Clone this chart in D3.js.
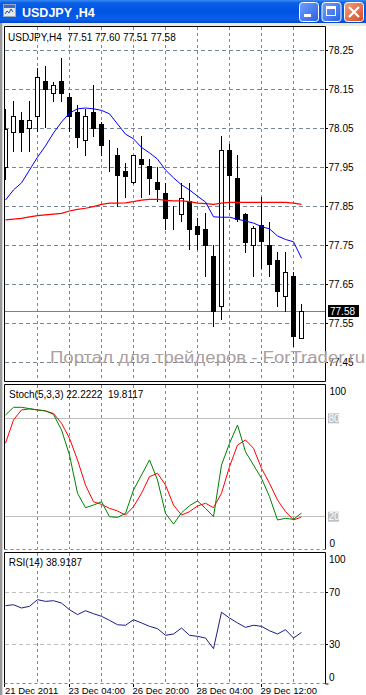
<!DOCTYPE html>
<html><head><meta charset="utf-8">
<script src="https://cdn.jsdelivr.net/npm/d3@7"></script>
<style>
html,body{margin:0;padding:0;background:#fff;overflow:hidden}
svg{display:block}
text{font-family:"Liberation Sans",Arial,sans-serif}
</style>
</head><body>
<svg id="c" width="366" height="695"></svg>
<script>
// ---------------- data ----------------
const windowTitle = "USDJPY ,H4";
const chartLabel = "USDJPY,H4  77.51 77.60 77.51 77.58";
const stochLabel = "Stoch(5,3,3) 22.2222  19.8117";
const rsiLabel = "RSI(14) 38.9187";
const watermark = "Портал для трейдеров - ForTrader.ru";

const open  = [77.950,78.040,78.070,78.050,78.081,78.170,78.140,78.170,78.130,78.091,78.019,78.091,78.060,77.971,77.980,77.940,77.910,77.971,77.951,77.910,77.882,77.830,77.830,77.862,77.799,77.790,77.721,77.591,77.992,77.921,77.830,77.749,77.800,77.750,77.710,77.620,77.671,77.510];
const high  = [78.099,78.120,78.092,78.120,78.205,78.210,78.168,78.230,78.141,78.110,78.100,78.161,78.066,78.020,78.000,77.960,77.980,78.030,77.971,77.950,77.910,77.850,77.910,77.910,77.820,77.833,77.750,78.030,78.010,77.982,77.833,77.800,77.875,77.810,77.733,77.733,77.681,77.600];
const low   = [77.917,77.990,77.990,77.990,78.040,78.050,78.118,78.118,78.040,78.000,77.980,78.028,77.979,77.939,77.849,77.870,77.908,77.870,77.879,77.860,77.790,77.790,77.810,77.738,77.738,77.670,77.540,77.558,77.840,77.810,77.730,77.670,77.690,77.670,77.591,77.580,77.490,77.510];
const close = [78.048,78.081,78.040,78.070,78.181,78.150,78.160,78.139,78.080,78.028,78.081,78.050,78.007,77.970,77.928,77.928,77.980,77.959,77.919,77.891,77.818,77.829,77.870,77.789,77.779,77.748,77.580,77.992,77.928,77.817,77.759,77.792,77.759,77.700,77.630,77.681,77.518,77.580];

const maFast = [77.866,77.892,77.910,77.943,77.976,78.005,78.038,78.066,78.089,78.100,78.102,78.100,78.096,78.087,78.061,78.035,78.023,78.001,77.987,77.971,77.943,77.923,77.905,77.892,77.876,77.861,77.823,77.822,77.822,77.817,77.812,77.807,77.798,77.792,77.774,77.765,77.759,77.717];
const maSlow = [77.815,77.817,77.819,77.823,77.826,77.828,77.830,77.832,77.838,77.842,77.845,77.849,77.855,77.858,77.858,77.859,77.862,77.866,77.868,77.868,77.865,77.864,77.864,77.862,77.858,77.857,77.855,77.858,77.860,77.860,77.860,77.860,77.860,77.860,77.860,77.860,77.858,77.855];

const stochMain   = [82.0,86.7,86.7,85.9,85.1,84.5,82.4,72.9,57.6,34.3,25.5,27.1,29.1,20.0,19.6,22.0,36.3,45.4,54.6,42.4,22.0,15.5,22.4,26.7,29.6,25.1,20.0,51.5,64.7,75.9,59.6,51.5,43.4,32.2,18.0,19.0,18.4,22.2];
const stochSignal = [64.8,79.0,85.1,85.7,85.1,84.5,82.9,77.0,67.8,54.6,39.3,29.1,27.5,25.1,23.5,21.0,26.1,34.3,44.4,46.5,39.3,27.1,21.0,23.1,26.5,28.2,25.5,34.3,50.5,63.7,66.8,61.7,49.5,40.4,30.2,23.1,18.0,19.8];
const rsi = [59.5,60.2,57.7,59.0,64.1,62.8,63.3,61.5,56.4,52.6,55.6,53.3,51.3,48.2,44.8,44.4,48.7,46.2,43.6,41.8,36.7,37.7,42.3,36.7,35.9,34.6,26.4,54.4,50.0,46.2,42.8,44.4,43.6,40.2,37.7,41.0,34.6,38.9];

const priceTicks = [78.25,78.15,78.05,77.95,77.85,77.75,77.65,77.55,77.45];
const lastPrice = 77.58;
const stochLevels = [80,20];
const stochAxis = [100,0];
const rsiLevels = [70,30];
const rsiAxis = [100,70,30,0];
const gridIdx = [4,8,12,16,20,24,28,32,36];
const timeIdx = [0,8,16,24,32];
const timeLabels = ["21 Dec 2011","23 Dec 04:00","26 Dec 20:00","28 Dec 04:00","29 Dec 12:00"];

// ---------------- drawing ----------------
const svg = d3.select("#c");
const n = close.length;
const L = 4.5, R = 325.5;
const x = d3.scaleLinear().domain([0, n-1]).range([5.5, 5.5 + 8*(n-1)]);
const yP = d3.scaleLinear().domain([77.45, 78.25]).range([362.3, 50.3]);
const yS = d3.scaleLinear().domain([0, 100]).range([549.5, 385.5]);
const yR = d3.scaleLinear().domain([0, 100]).range([683, 553]);
const crisp = v => Math.round(v - 0.5) + 0.5;
const GRID = "#778899";

const defs = svg.append("defs");
const g1 = defs.append("linearGradient").attr("id","tb").attr("x1",0).attr("y1",0).attr("x2",0).attr("y2",1);
[[0,"#3a8cf5"],[0.12,"#0a5fe6"],[0.5,"#0054e3"],[0.85,"#0a5ee9"],[1,"#0446c8"]].forEach(s=>g1.append("stop").attr("offset",s[0]).attr("stop-color",s[1]));
const g2 = defs.append("linearGradient").attr("id","bt").attr("x1",0).attr("y1",0).attr("x2",1).attr("y2",1);
[[0,"#6fa0ff"],[1,"#2a60e0"]].forEach(s=>g2.append("stop").attr("offset",s[0]).attr("stop-color",s[1]));
const g3 = defs.append("linearGradient").attr("id","cl").attr("x1",0).attr("y1",0).attr("x2",1).attr("y2",1);
[[0,"#f0a080"],[1,"#d84a25"]].forEach(s=>g3.append("stop").attr("offset",s[0]).attr("stop-color",s[1]));
defs.append("clipPath").attr("id","cm").append("rect").attr("x",5).attr("y",27).attr("width",320).attr("height",354);
defs.append("clipPath").attr("id","cs").append("rect").attr("x",5).attr("y",385).attr("width",320).attr("height",164);
defs.append("clipPath").attr("id","cr").append("rect").attr("x",5).attr("y",553).attr("width",320).attr("height",130);

// window chrome
svg.append("rect").attr("x",0).attr("y",0).attr("width",366).attr("height",695).attr("fill","#fff");
svg.append("rect").attr("x",0).attr("y",0).attr("width",366).attr("height",23).attr("fill","url(#tb)");
svg.append("rect").attr("x",0).attr("y",23).attr("width",366).attr("height",3).attr("fill","#ece9d8");
svg.append("rect").attr("x",0).attr("y",23).attr("width",2).attr("height",672).attr("fill","#9a9a9a");
svg.append("rect").attr("x",2).attr("y",23).attr("width",1).attr("height",672).attr("fill","#d8d8d8");
// icon
const ic = svg.append("g");
ic.append("rect").attr("x",3.5).attr("y",4.5).attr("width",12).attr("height",12).attr("fill","#e8e8e8").attr("stroke","#9ab").attr("stroke-width",1);
ic.append("rect").attr("x",4).attr("y",5).attr("width",11).attr("height",3).attr("fill","#3a6ad0");
ic.append("path").attr("d","M5,14 L7,11 L9,13 L11,9 L13,12").attr("fill","none").attr("stroke","#2050b0").attr("stroke-width",1);
svg.append("text").attr("x",22).attr("y",16.7).attr("fill","#fff").attr("font-weight","bold").attr("font-size",12.5).text(windowTitle);
// buttons
[[299,"url(#bt)"],[321.5,"url(#bt)"],[344,"url(#cl)"]].forEach(b=>{
  svg.append("rect").attr("x",b[0]+0.5).attr("y",2.5).attr("width",19).attr("height",19).attr("rx",3)
    .attr("fill",b[1]).attr("stroke","#fff").attr("stroke-width",1);
});
svg.append("rect").attr("x",304).attr("y",14).attr("width",7).attr("height",3).attr("fill","#fff");
svg.append("rect").attr("x",326.5).attr("y",6.5).attr("width",9).attr("height",9).attr("fill","none").attr("stroke","#fff").attr("stroke-width",1);
svg.append("rect").attr("x",326).attr("y",6).attr("width",10).attr("height",3).attr("fill","#fff");
svg.append("path").attr("d","M349,7 L359,17 M359,7 L349,17").attr("stroke","#fff").attr("stroke-width",2.2);

// ---------- vertical grid in all panels ----------
[[27,381],[385,549],[553,683]].forEach(p=>{
  svg.append("g").selectAll("line").data(gridIdx).join("line")
    .attr("x1",d=>crisp(x(d))).attr("x2",d=>crisp(x(d))).attr("y1",p[0]).attr("y2",p[1])
    .attr("stroke",GRID).attr("stroke-dasharray","3,3");
});

// ---------- main panel ----------
svg.append("g").selectAll("line").data(priceTicks).join("line")
  .attr("x1",5).attr("x2",325).attr("y1",d=>crisp(yP(d))).attr("y2",d=>crisp(yP(d)))
  .attr("stroke",GRID).attr("stroke-dasharray","4,3");

const mg = svg.append("g").attr("clip-path","url(#cm)");
// current price line
mg.append("line").attr("x1",5).attr("x2",325).attr("y1",crisp(yP(lastPrice))).attr("y2",crisp(yP(lastPrice))).attr("stroke","#808080");

const idx = d3.range(n);
mg.append("g").selectAll("line").data(idx).join("line")
  .attr("x1",i=>crisp(x(i))).attr("x2",i=>crisp(x(i)))
  .attr("y1",i=>Math.round(yP(high[i]))).attr("y2",i=>Math.round(yP(low[i])))
  .attr("stroke","#000").attr("stroke-width",1);
mg.append("g").selectAll("rect").data(idx).join("rect")
  .attr("x",i=>crisp(x(i))-2).attr("width",4)
  .attr("y",i=>crisp(yP(Math.max(open[i],close[i]))))
  .attr("height",i=>Math.max(0, Math.round(Math.abs(yP(open[i])-yP(close[i])))))
  .attr("fill",i=>close[i]>=open[i]?"#fff":"#000").attr("stroke","#000").attr("stroke-width",1);

const lineP = arr => d3.line().x((d,i)=>x(i)).y(d=>yP(d))(arr);
mg.append("path").attr("d",lineP(maSlow)).attr("fill","none").attr("stroke","#ff0000").attr("stroke-width",1.2);
mg.append("path").attr("d",lineP(maFast)).attr("fill","none").attr("stroke","#0000ff").attr("stroke-width",1);

svg.append("text").attr("x",8).attr("y",40.6).attr("font-size",10).attr("fill","#000").style("white-space","pre").text(chartLabel);

// price axis
svg.append("g").selectAll("line").data(priceTicks).join("line")
  .attr("x1",325.5).attr("x2",328).attr("y1",d=>crisp(yP(d))).attr("y2",d=>crisp(yP(d))).attr("stroke","#000");
svg.append("g").selectAll("text").data(priceTicks).join("text")
  .attr("x",328.5).attr("y",d=>yP(d)+3.6).attr("font-size",10).attr("fill","#000").text(d=>d.toFixed(2));
svg.append("rect").attr("x",328).attr("y",crisp(yP(lastPrice))-6.5).attr("width",31).attr("height",12).attr("fill","#000");
svg.append("text").attr("x",330).attr("y",yP(lastPrice)+3.8).attr("font-size",10).attr("fill","#fff").text(lastPrice.toFixed(2));

// ---------- stochastic ----------
svg.append("g").selectAll("line").data(stochLevels).join("line")
  .attr("x1",5).attr("x2",325).attr("y1",d=>crisp(yS(d))).attr("y2",d=>crisp(yS(d))).attr("stroke","#c0c0c0");
const sg = svg.append("g").attr("clip-path","url(#cs)");
const lineS = arr => d3.line().x((d,i)=>x(i)).y(d=>yS(d))(arr);
sg.append("path").attr("d",lineS(stochSignal)).attr("fill","none").attr("stroke","#ff0000").attr("stroke-width",1);
sg.append("path").attr("d",lineS(stochMain)).attr("fill","none").attr("stroke","#008000").attr("stroke-width",1);
svg.append("text").attr("x",9).attr("y",398.3).attr("font-size",10).style("white-space","pre").text(stochLabel);
svg.append("g").selectAll("rect").data(stochLevels).join("rect")
  .attr("x",328).attr("y",d=>yS(d)-5).attr("width",11).attr("height",10).attr("fill","#c0c0c0");
svg.append("g").selectAll("text.l").data(stochLevels).join("text")
  .attr("x",328.5).attr("y",d=>yS(d)+3.6).attr("font-size",10).attr("fill","#fff").text(d=>d);
svg.append("text").attr("x",329.5).attr("y",395).attr("font-size",10).text(stochAxis[0]);
svg.append("text").attr("x",329.5).attr("y",546.7).attr("font-size",10).text(stochAxis[1]);

// ---------- RSI ----------
svg.append("g").selectAll("line").data(rsiLevels).join("line")
  .attr("x1",5).attr("x2",325).attr("y1",d=>crisp(yR(d))).attr("y2",d=>crisp(yR(d)))
  .attr("stroke","#c0c0c0").attr("stroke-dasharray","4,3");
const rg = svg.append("g").attr("clip-path","url(#cr)");
rg.append("path").attr("d",d3.line().x((d,i)=>x(i)).y(d=>yR(d))(rsi)).attr("fill","none").attr("stroke","#1c1c86").attr("stroke-width",1);
svg.append("text").attr("x",8.7).attr("y",566.3).attr("font-size",10).text(rsiLabel);
const rsiY = {100:563, 70:yR(70)+3.5, 30:yR(30)+3.5, 0:680.7};
svg.append("g").selectAll("text").data(rsiAxis).join("text")
  .attr("x",329).attr("y",d=>rsiY[d]).attr("font-size",10).text(d=>d);
svg.append("g").selectAll("line").data(rsiLevels).join("line")
  .attr("x1",325.5).attr("x2",328).attr("y1",d=>crisp(yR(d))).attr("y2",d=>crisp(yR(d))).attr("stroke","#000");

// ---------- frames ----------
const fr = svg.append("g").attr("fill","none").attr("stroke","#000").attr("stroke-width",1);
fr.append("path").attr("d",`M${L},381.5 V26.5 H${R} V381.5 H${L}`);
fr.append("path").attr("d",`M${L},549.5 V384.5 H${R} V549.5`);
fr.append("path").attr("d",`M${L},684 V552.5 H${R} V684`);
svg.append("line").attr("x1",L).attr("x2",R).attr("y1",549.5).attr("y2",549.5).attr("stroke",GRID).attr("stroke-dasharray","3,3");
svg.append("line").attr("x1",L).attr("x2",R).attr("y1",683.5).attr("y2",683.5).attr("stroke",GRID).attr("stroke-dasharray","3,3");
svg.append("line").attr("x1",R).attr("x2",R+3).attr("y1",684).attr("y2",684).attr("stroke","#000");

// ---------- time axis ----------
svg.append("g").selectAll("line").data(timeIdx).join("line")
  .attr("x1",i=>crisp(x(i))-(i===0?1:0)).attr("x2",i=>crisp(x(i))-(i===0?1:0)).attr("y1",684).attr("y2",687)
  .attr("stroke","#000");
svg.append("g").selectAll("text").data(timeIdx).join("text")
  .attr("x",(i,k)=>x(i)-(k===0?0.5:1)).attr("y",693.6).attr("font-size",9.5).text((i,k)=>timeLabels[k]);

// ---------- watermark ----------
svg.append("text").attr("x",50).attr("y",363.3).attr("font-size",16).attr("fill","#ab9f9f")
  .attr("textLength",315).attr("lengthAdjust","spacingAndGlyphs").text(watermark);
</script>
</body></html>
